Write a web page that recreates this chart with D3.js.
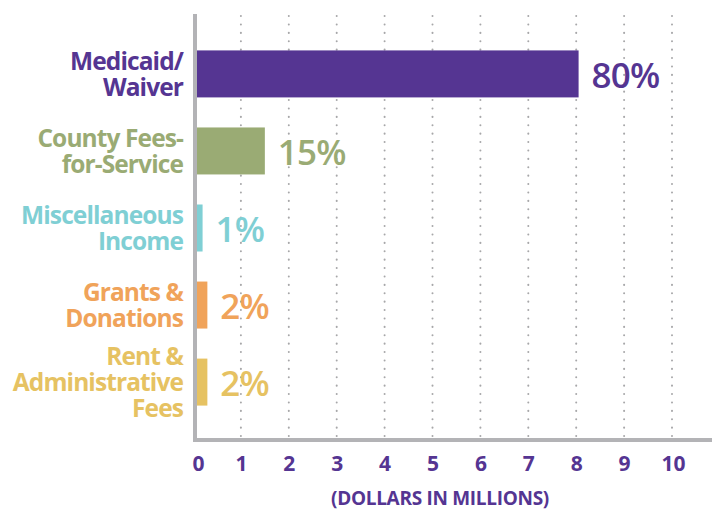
<!DOCTYPE html>
<html>
<head>
<meta charset="utf-8">
<script src="https://cdn.jsdelivr.net/npm/d3@7"></script>
<style>
  body { margin: 0; background: #fff; }
  svg text { font-family: "Open Sans", "Noto Sans", sans-serif; }
</style>
</head>
<body>
<div id="chart"></div>
<script>
  const categories = [
    ["Medicaid/", "Waiver"],
    ["County Fees-", "for-Service"],
    ["Miscellaneous", "Income"],
    ["Grants &", "Donations"],
    ["Rent &", "Administrative", "Fees"]
  ];
  const values = [8.05, 1.5, 0.2, 0.3, 0.3];
  const percentLabels = ["80%", "15%", "1%", "2%", "2%"];
  const colors = ["#553592", "#9aab74", "#7fcfd4", "#f0a35a", "#e6c262"];
  const ticks = [0, 1, 2, 3, 4, 5, 6, 7, 8, 9, 10];

  const width = 717, height = 510;
  const margin = { left: 193, top: 14 };

  const svg = d3.select("#chart").append("svg")
    .attr("width", width)
    .attr("height", height);

  const x = d3.scaleLinear().domain([0, 10]).range([margin.left, 672]);
  const y = d3.scaleBand()
    .domain(d3.range(categories.length))
    .range([35, 421])
    .paddingInner(0.39)
    .paddingOuter(0.2);

  // dotted gridlines
  svg.append("g")
    .selectAll("line")
    .data(ticks.slice(1))
    .join("line")
    .attr("x1", d => x(d)).attr("x2", d => x(d))
    .attr("y1", margin.top + 2).attr("y2", 437)
    .attr("stroke", "#a7a7a9")
    .attr("stroke-width", 2)
    .attr("stroke-linecap", "round")
    .attr("stroke-dasharray", "0.1,8.3");

  // bars
  svg.append("g")
    .selectAll("rect")
    .data(values)
    .join("rect")
    .attr("x", x(0))
    .attr("y", (d, i) => y(i))
    .attr("width", d => x(d) - x(0))
    .attr("height", y.bandwidth())
    .attr("fill", (d, i) => colors[i]);

  // percent labels
  svg.append("g")
    .selectAll("text")
    .data(values)
    .join("text")
    .attr("x", d => x(d) + 13)
    .attr("y", (d, i) => y(i) + y.bandwidth() / 2 + 1)
    .attr("dy", "0.36em")
    .attr("fill", (d, i) => colors[i])
    .attr("font-size", 35)
    .attr("font-weight", 600)
    .attr("letter-spacing", "-0.8")
    .text((d, i) => percentLabels[i]);

  // category labels
  const lineH = 26;
  svg.append("g")
    .selectAll("text")
    .data(categories)
    .join("text")
    .attr("text-anchor", "end")
    .attr("fill", (d, i) => colors[i])
    .attr("font-size", 24.5)
    .attr("font-weight", 700)
    .attr("letter-spacing", "-0.9")
    .each(function (lines, i) {
      const cy = y(i) + y.bandwidth() / 2;
      const start = cy - (lines.length - 1) * lineH / 2;
      d3.select(this).selectAll("tspan")
        .data(lines)
        .join("tspan")
        .attr("x", 183)
        .attr("y", (d, j) => start + j * lineH)
        .attr("dy", "0.36em")
        .text(d => d);
    });

  // axis lines
  svg.append("line")
    .attr("x1", x(0) + 2).attr("x2", x(0) + 2)
    .attr("y1", margin.top).attr("y2", 442)
    .attr("stroke", "#b3b3b6").attr("stroke-width", 4);
  svg.append("line")
    .attr("x1", x(0)).attr("x2", 712)
    .attr("y1", 440).attr("y2", 440)
    .attr("stroke", "#b3b3b6").attr("stroke-width", 4);

  // x axis tick labels
  const xAxis = d3.axisBottom(x).tickValues(ticks).tickSize(0).tickPadding(0);
  const gx = svg.append("g")
    .attr("transform", "translate(0,456)")
    .call(xAxis);
  gx.select(".domain").remove();
  gx.selectAll("text")
    .attr("dy", "0.71em")
    .attr("fill", "#553592")
    .attr("font-size", 21)
    .attr("font-weight", 700)
    .attr("font-family", "\"Open Sans\", sans-serif")
    .attr("dx", d => d === 0 ? 5 : (d === 10 ? 1 : 0));

  svg.append("text")
    .attr("x", 440)
    .attr("y", 505)
    .attr("text-anchor", "middle")
    .attr("fill", "#553592")
    .attr("font-size", 19)
    .attr("font-weight", 700)
    .attr("letter-spacing", "-0.3")
    .text("(DOLLARS IN MILLIONS)");
</script>
</body>
</html>
